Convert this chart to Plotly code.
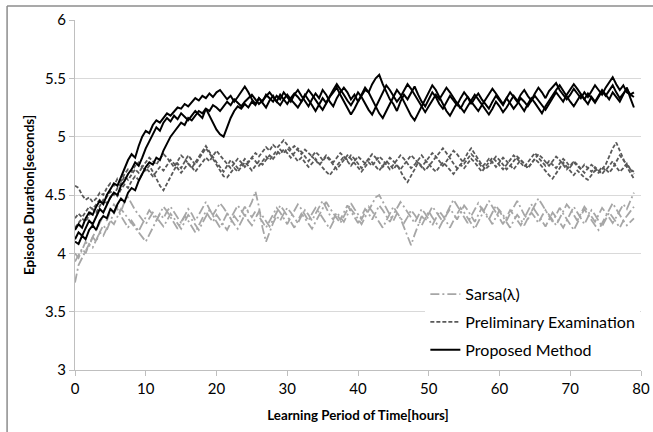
import numpy as np
import plotly.graph_objects as go

# time axis: every half hour from 0 to 79 h
hours = [i * 0.5 for i in range(159)]

proposed_1 = [
    4.20,4.25,4.22,4.30,4.35,4.33,4.40,4.45,4.42,4.50,
    4.55,4.60,4.58,4.65,4.72,4.80,4.85,4.82,4.92,5.00,
    5.05,5.03,5.10,5.14,5.12,5.16,5.20,5.18,5.22,5.25,
    5.24,5.28,5.26,5.30,5.33,5.31,5.35,5.33,5.37,5.34,
    5.38,5.40,5.36,5.32,5.35,5.30,5.34,5.38,5.43,5.38,
    5.32,5.28,5.33,5.30,5.36,5.33,5.30,5.35,5.32,5.38,
    5.34,5.30,5.36,5.40,5.35,5.30,5.26,5.32,5.37,5.33,
    5.40,5.36,5.30,5.26,5.33,5.38,5.42,5.38,5.32,5.36,
    5.30,5.35,5.40,5.38,5.45,5.50,5.53,5.45,5.38,5.32,
    5.28,5.22,5.30,5.36,5.32,5.38,5.43,5.36,5.30,5.26,
    5.32,5.38,5.34,5.28,5.24,5.30,5.35,5.31,5.27,5.33,
    5.38,5.34,5.28,5.33,5.37,5.32,5.28,5.24,5.30,5.35,
    5.31,5.27,5.33,5.38,5.34,5.30,5.36,5.40,5.35,5.31,
    5.37,5.42,5.38,5.33,5.39,5.43,5.46,5.40,5.36,5.32,
    5.36,5.41,5.37,5.33,5.38,5.34,5.39,5.44,5.40,5.36,
    5.42,5.47,5.51,5.45,5.40,5.44,5.38,5.36,5.34]
proposed_2 = [
    4.12,4.18,4.15,4.22,4.28,4.25,4.32,4.38,4.35,4.42,
    4.48,4.52,4.50,4.58,4.62,4.68,4.72,4.78,4.75,4.82,
    4.90,4.96,5.02,5.08,5.05,5.12,5.16,5.13,5.18,5.15,
    5.20,5.17,5.14,5.18,5.22,5.19,5.16,5.24,5.18,5.12,
    5.06,5.02,5.00,5.08,5.16,5.22,5.26,5.24,5.28,5.25,
    5.30,5.27,5.33,5.29,5.25,5.31,5.35,5.30,5.27,5.32,
    5.36,5.32,5.28,5.25,5.30,5.35,5.40,5.36,5.31,5.27,
    5.23,5.29,5.34,5.38,5.42,5.36,5.30,5.25,5.19,5.24,
    5.30,5.36,5.42,5.38,5.32,5.26,5.20,5.16,5.22,5.28,
    5.34,5.40,5.36,5.30,5.24,5.18,5.14,5.20,5.26,5.32,
    5.38,5.44,5.40,5.34,5.28,5.22,5.18,5.24,5.29,5.25,
    5.21,5.26,5.31,5.36,5.32,5.28,5.23,5.19,5.24,5.30,
    5.26,5.21,5.25,5.30,5.35,5.31,5.27,5.22,5.28,5.33,
    5.29,5.24,5.20,5.26,5.31,5.36,5.40,5.44,5.39,5.34,
    5.30,5.26,5.31,5.36,5.32,5.28,5.34,5.30,5.35,5.40,
    5.36,5.32,5.38,5.34,5.30,5.36,5.42,5.33,5.25]
proposed_3 = [
    4.10,4.08,4.15,4.12,4.20,4.24,4.20,4.28,4.32,4.30,
    4.38,4.35,4.42,4.47,4.44,4.52,4.56,4.54,4.62,4.68,
    4.74,4.78,4.76,4.82,4.80,4.88,4.94,5.00,5.04,5.08,
    5.12,5.10,5.16,5.14,5.18,5.22,5.20,5.24,5.22,5.27,
    5.25,5.22,5.26,5.30,5.27,5.32,5.29,5.26,5.30,5.33,
    5.36,5.32,5.28,5.31,5.35,5.38,5.34,5.30,5.36,5.32,
    5.28,5.33,5.37,5.34,5.30,5.36,5.32,5.27,5.22,5.28,
    5.33,5.29,5.35,5.40,5.45,5.41,5.36,5.31,5.27,5.32,
    5.38,5.34,5.28,5.23,5.19,5.25,5.32,5.38,5.44,5.40,
    5.35,5.30,5.34,5.40,5.45,5.41,5.36,5.30,5.25,5.21,
    5.26,5.31,5.36,5.32,5.37,5.42,5.38,5.33,5.29,5.24,
    5.30,5.34,5.30,5.26,5.22,5.27,5.32,5.37,5.41,5.37,
    5.32,5.28,5.33,5.29,5.24,5.28,5.33,5.30,5.26,5.31,
    5.35,5.31,5.27,5.23,5.28,5.33,5.38,5.34,5.30,5.36,
    5.41,5.45,5.41,5.36,5.32,5.37,5.33,5.29,5.34,5.39,
    5.35,5.40,5.44,5.38,5.33,5.37,5.41,5.36,5.38]

prelim_1 = [
    4.58,4.56,4.50,4.46,4.48,4.44,4.47,4.52,4.50,4.56,
    4.60,4.58,4.64,4.62,4.68,4.72,4.70,4.75,4.78,4.74,
    4.78,4.82,4.79,4.76,4.81,4.85,4.82,4.78,4.74,4.79,
    4.84,4.81,4.77,4.73,4.78,4.83,4.88,4.92,4.87,4.82,
    4.78,4.74,4.70,4.75,4.80,4.77,4.73,4.76,4.81,4.78,
    4.82,4.86,4.83,4.87,4.91,4.88,4.93,4.90,4.94,4.97,
    4.93,4.89,4.92,4.88,4.85,4.89,4.86,4.83,4.87,4.84,
    4.80,4.84,4.81,4.78,4.82,4.86,4.83,4.79,4.75,4.79,
    4.83,4.80,4.77,4.81,4.85,4.82,4.78,4.74,4.78,4.82,
    4.79,4.75,4.72,4.76,4.80,4.84,4.81,4.77,4.74,4.78,
    4.82,4.86,4.83,4.79,4.75,4.79,4.84,4.88,4.85,4.81,
    4.77,4.81,4.85,4.82,4.78,4.74,4.77,4.81,4.78,4.74,
    4.78,4.82,4.79,4.75,4.72,4.76,4.80,4.77,4.73,4.77,
    4.81,4.85,4.82,4.78,4.75,4.79,4.83,4.80,4.76,4.72,
    4.75,4.79,4.76,4.72,4.69,4.73,4.76,4.73,4.70,4.74,
    4.71,4.75,4.79,4.74,4.70,4.73,4.77,4.72,4.70]
prelim_2 = [
    4.30,4.34,4.31,4.36,4.40,4.38,4.42,4.46,4.44,4.49,
    4.53,4.50,4.56,4.60,4.66,4.63,4.68,4.72,4.69,4.74,
    4.71,4.75,4.70,4.64,4.58,4.54,4.60,4.66,4.72,4.77,
    4.73,4.79,4.84,4.80,4.76,4.81,4.86,4.90,4.86,4.81,
    4.76,4.70,4.66,4.65,4.69,4.73,4.70,4.74,4.78,4.75,
    4.71,4.75,4.79,4.76,4.80,4.84,4.81,4.85,4.89,4.86,
    4.90,4.87,4.83,4.79,4.82,4.78,4.74,4.77,4.81,4.77,
    4.73,4.70,4.67,4.71,4.75,4.79,4.83,4.80,4.84,4.81,
    4.77,4.73,4.77,4.81,4.78,4.74,4.71,4.75,4.79,4.76,
    4.72,4.76,4.70,4.65,4.61,4.66,4.72,4.78,4.75,4.71,
    4.75,4.79,4.83,4.87,4.90,4.86,4.81,4.77,4.73,4.76,
    4.80,4.86,4.90,4.85,4.80,4.76,4.72,4.75,4.79,4.83,
    4.80,4.76,4.72,4.75,4.79,4.83,4.80,4.76,4.73,4.77,
    4.81,4.78,4.74,4.70,4.67,4.64,4.68,4.73,4.78,4.74,
    4.70,4.67,4.71,4.68,4.65,4.63,4.67,4.71,4.69,4.72,
    4.76,4.83,4.90,4.95,4.88,4.80,4.74,4.69,4.64]
prelim_3 = [
    4.22,4.26,4.30,4.27,4.33,4.38,4.35,4.41,4.46,4.43,
    4.48,4.52,4.49,4.55,4.59,4.56,4.62,4.66,4.63,4.68,
    4.73,4.70,4.66,4.70,4.74,4.71,4.76,4.80,4.77,4.73,
    4.69,4.73,4.77,4.74,4.70,4.74,4.78,4.82,4.79,4.84,
    4.88,4.84,4.80,4.76,4.73,4.77,4.81,4.78,4.74,4.78,
    4.82,4.79,4.75,4.79,4.83,4.80,4.84,4.88,4.85,4.89,
    4.86,4.82,4.86,4.90,4.87,4.83,4.79,4.83,4.80,4.76,
    4.79,4.83,4.80,4.76,4.72,4.76,4.80,4.84,4.81,4.77,
    4.73,4.70,4.74,4.78,4.75,4.79,4.83,4.80,4.76,4.72,
    4.76,4.80,4.84,4.81,4.77,4.73,4.76,4.80,4.84,4.80,
    4.76,4.73,4.70,4.74,4.78,4.75,4.71,4.68,4.72,4.76,
    4.73,4.77,4.81,4.78,4.74,4.70,4.74,4.78,4.82,4.79,
    4.75,4.72,4.76,4.80,4.84,4.81,4.77,4.74,4.78,4.82,
    4.86,4.82,4.78,4.75,4.79,4.76,4.73,4.77,4.81,4.78,
    4.74,4.78,4.75,4.72,4.76,4.73,4.70,4.74,4.71,4.68,
    4.72,4.69,4.73,4.78,4.84,4.80,4.76,4.72,4.68]

sarsa_1 = [
    3.75,3.90,3.96,4.02,4.08,4.05,4.12,4.18,4.15,4.22,
    4.28,4.25,4.32,4.38,4.34,4.30,4.26,4.22,4.18,4.14,
    4.10,4.16,4.22,4.28,4.34,4.30,4.36,4.40,4.35,4.30,
    4.26,4.32,4.38,4.34,4.28,4.33,4.39,4.44,4.38,4.32,
    4.27,4.22,4.28,4.34,4.30,4.36,4.41,4.37,4.32,4.38,
    4.44,4.53,4.40,4.22,4.10,4.18,4.26,4.32,4.28,4.34,
    4.39,4.35,4.30,4.26,4.32,4.37,4.33,4.28,4.34,4.40,
    4.45,4.39,4.33,4.29,4.35,4.31,4.27,4.33,4.38,4.34,
    4.30,4.25,4.31,4.37,4.42,4.48,4.50,4.44,4.38,4.33,
    4.28,4.34,4.30,4.22,4.14,4.07,4.16,4.25,4.32,4.28,
    4.34,4.40,4.36,4.31,4.27,4.33,4.38,4.34,4.29,4.35,
    4.41,4.37,4.32,4.27,4.33,4.39,4.35,4.30,4.25,4.31,
    4.37,4.33,4.28,4.34,4.40,4.45,4.39,4.33,4.29,4.35,
    4.31,4.26,4.32,4.37,4.33,4.28,4.24,4.30,4.36,4.42,
    4.38,4.33,4.28,4.34,4.40,4.36,4.31,4.27,4.33,4.39,
    4.35,4.30,4.26,4.31,4.37,4.42,4.38,4.45,4.52]
sarsa_2 = [
    3.93,3.98,4.04,4.00,4.08,4.14,4.10,4.18,4.24,4.20,
    4.28,4.34,4.40,4.36,4.44,4.48,4.42,4.37,4.33,4.29,
    4.25,4.30,4.35,4.31,4.27,4.23,4.28,4.34,4.30,4.25,
    4.21,4.27,4.33,4.29,4.24,4.20,4.26,4.32,4.37,4.33,
    4.38,4.43,4.39,4.34,4.30,4.25,4.21,4.27,4.33,4.28,
    4.24,4.30,4.36,4.32,4.27,4.23,4.29,4.35,4.41,4.37,
    4.32,4.27,4.22,4.28,4.34,4.30,4.25,4.21,4.27,4.33,
    4.38,4.44,4.39,4.34,4.30,4.26,4.32,4.37,4.43,4.38,
    4.34,4.29,4.35,4.40,4.36,4.31,4.26,4.22,4.28,4.34,
    4.40,4.35,4.30,4.26,4.31,4.37,4.33,4.28,4.24,4.30,
    4.36,4.31,4.26,4.22,4.28,4.34,4.40,4.46,4.41,4.36,
    4.31,4.26,4.32,4.38,4.43,4.38,4.33,4.29,4.35,4.41,
    4.36,4.31,4.26,4.22,4.28,4.33,4.29,4.24,4.30,4.36,
    4.41,4.47,4.42,4.37,4.32,4.27,4.33,4.39,4.34,4.29,
    4.25,4.20,4.26,4.32,4.38,4.33,4.28,4.24,4.20,4.26,
    4.32,4.38,4.43,4.38,4.33,4.28,4.32,4.36,4.40]
sarsa_3 = [
    4.00,3.96,4.03,4.10,4.06,4.14,4.20,4.26,4.32,4.28,
    4.36,4.42,4.38,4.32,4.27,4.22,4.28,4.24,4.19,4.25,
    4.31,4.37,4.33,4.28,4.34,4.40,4.36,4.31,4.26,4.21,
    4.27,4.32,4.28,4.23,4.18,4.24,4.30,4.36,4.31,4.27,
    4.33,4.29,4.24,4.20,4.26,4.32,4.28,4.34,4.40,4.35,
    4.31,4.36,4.32,4.27,4.22,4.28,4.34,4.39,4.35,4.30,
    4.25,4.31,4.37,4.42,4.38,4.33,4.28,4.34,4.39,4.35,
    4.30,4.25,4.21,4.27,4.33,4.29,4.35,4.41,4.36,4.31,
    4.26,4.32,4.38,4.34,4.29,4.35,4.41,4.37,4.32,4.27,
    4.33,4.39,4.44,4.40,4.35,4.30,4.26,4.32,4.38,4.34,
    4.29,4.24,4.30,4.36,4.32,4.27,4.22,4.28,4.34,4.39,
    4.35,4.30,4.25,4.21,4.27,4.33,4.39,4.45,4.40,4.35,
    4.30,4.25,4.31,4.37,4.33,4.28,4.24,4.30,4.36,4.42,
    4.37,4.32,4.27,4.23,4.29,4.35,4.31,4.26,4.22,4.28,
    4.34,4.40,4.35,4.30,4.25,4.31,4.37,4.33,4.28,4.23,
    4.29,4.35,4.31,4.26,4.22,4.28,4.24,4.27,4.30]

series_names = ["Sarsa(λ)", "Preliminary Examination", "Proposed Method"]
x_ticks = [0, 10, 20, 30, 40, 50, 60, 70, 80]
y_ticks = [3, 3.5, 4, 4.5, 5, 5.5, 6]
y_tick_labels = ["3", "3.5", "4", "4.5", "5", "5.5", "6"]

groups = [
    (series_names[0], [sarsa_1, sarsa_2, sarsa_3], dict(color="#a6a6a6", width=1.8, dash="9px,3px,2px,3px")),
    (series_names[1], [prelim_1, prelim_2, prelim_3], dict(color="#595959", width=1.8, dash="4px,2px")),
    (series_names[2], [proposed_1, proposed_2, proposed_3], dict(color="#000000", width=2)),
]

fig = go.Figure()
for name, runs, style in groups:
    for i, ys in enumerate(runs):
        fig.add_trace(go.Scatter(
            x=hours, y=ys, mode="lines", name=name, legendgroup=name,
            showlegend=(i == 0), line=style, hoverinfo="skip"))

font_family = "Lato, 'Open Sans', sans-serif"
fig.update_layout(
    width=653, height=432,
    margin=dict(l=75, r=12, t=20, b=62),
    paper_bgcolor="white", plot_bgcolor="white",
    font=dict(family=font_family, size=15, color="#000000"),
    showlegend=True,
    legend=dict(x=0.619, y=0.265, xanchor="left", yanchor="top",
                bgcolor="white", borderwidth=0, font=dict(size=16),
                traceorder="grouped", tracegroupgap=4, itemwidth=30),
    xaxis=dict(range=[0, 80], tickvals=x_ticks, ticks="outside", ticklen=5,
               tickcolor="#bfbfbf", showline=True, linecolor="#bfbfbf", linewidth=1,
               showgrid=False, zeroline=False, automargin=False,
               title=dict(text="<b>Learning Period of Time[hours]</b>", font=dict(size=13.3), standoff=14)),
    yaxis=dict(range=[3, 6], tickvals=y_ticks, ticktext=y_tick_labels, ticks="outside", ticklen=5,
               tickcolor="#bfbfbf", showline=True, linecolor="#bfbfbf", linewidth=1,
               showgrid=True, gridcolor="#d9d9d9", gridwidth=1, zeroline=False, automargin=False,
               title=dict(text="<b>Episode Duration[seconds]</b>", font=dict(size=13.5), standoff=7)),
    shapes=[
        dict(type="line", xref="paper", yref="paper", x0=-0.120, x1=1.03, y0=1.04, y1=1.04,
             line=dict(color="#8c8c8c", width=1.5)),
        dict(type="line", xref="paper", yref="paper", x0=-0.120, x1=-0.120, y0=1.04, y1=-0.2,
             line=dict(color="#8c8c8c", width=1.5)),
    ],
)
fig.write_html("out.html", config={"displayModeBar": False},
               post_script="document.body.style.margin='0px';document.body.style.overflow='hidden';")
